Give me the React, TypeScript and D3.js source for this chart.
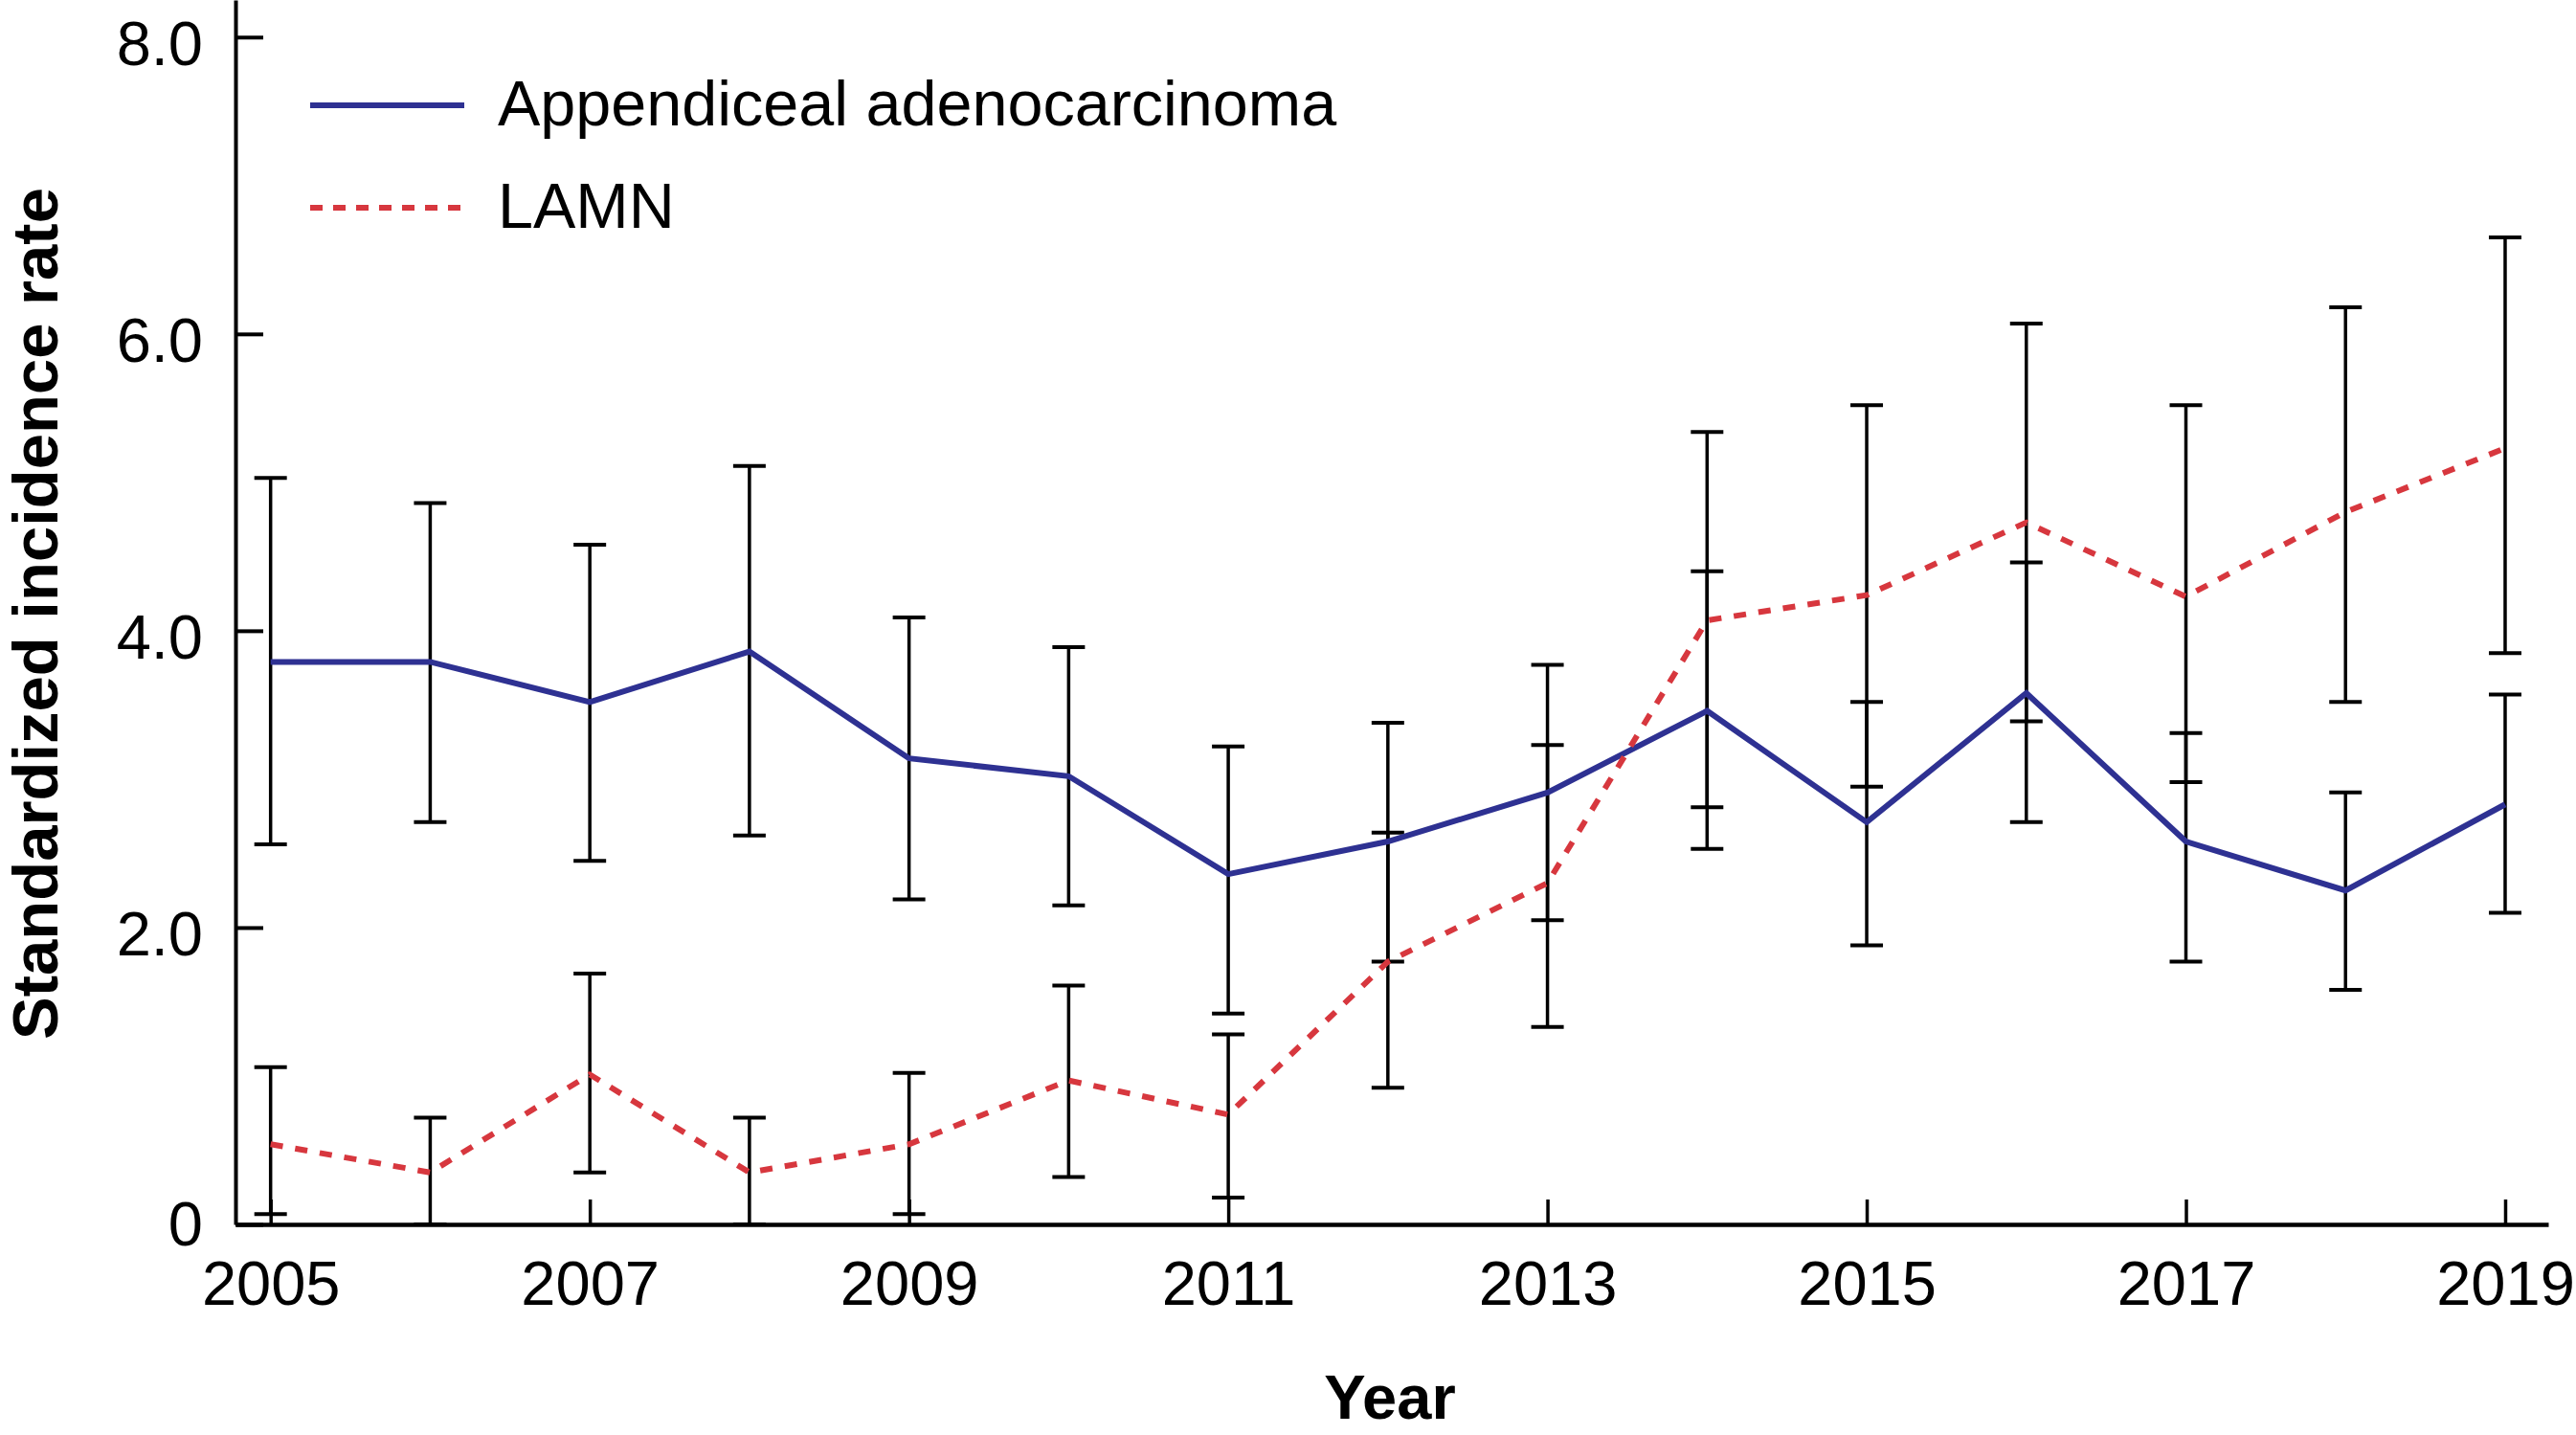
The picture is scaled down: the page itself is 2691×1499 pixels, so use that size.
import * as d3 from 'd3';
import React, { useEffect, useRef } from 'react';

const years = [2005, 2006, 2007, 2008, 2009, 2010, 2011, 2012, 2013, 2014, 2015, 2016, 2017, 2018, 2019];

// Appendiceal adenocarcinoma
const adenoRate = [3.79, 3.79, 3.52, 3.86, 3.14, 3.02, 2.36, 2.58, 2.91, 3.46, 2.71, 3.58, 2.58, 2.25, 2.83];
const adenoLower = [2.56, 2.71, 2.45, 2.62, 2.19, 2.15, 1.42, 1.77, 2.05, 2.53, 1.88, 2.71, 1.77, 1.58, 2.10];
const adenoUpper = [5.03, 4.86, 4.58, 5.11, 4.09, 3.89, 3.22, 3.38, 3.77, 4.40, 3.52, 4.46, 3.31, 2.91, 3.57];

// LAMN
const lamnRate = [0.54, 0.35, 1.01, 0.35, 0.54, 0.97, 0.74, 1.77, 2.30, 4.07, 4.24, 4.73, 4.23, 4.80, 5.23];
const lamnLower = [0.07, 0, 0.35, 0, 0.07, 0.32, 0.18, 0.92, 1.33, 2.81, 2.95, 3.39, 2.98, 3.52, 3.85];
const lamnUpper = [1.06, 0.72, 1.69, 0.72, 1.02, 1.61, 1.28, 2.64, 3.23, 5.34, 5.52, 6.07, 5.52, 6.18, 6.65];

const xTickYears = [2005, 2007, 2009, 2011, 2013, 2015, 2017, 2019];
const yTickValues = [0, 2, 4, 6, 8];

const seriesNames = ['Appendiceal adenocarcinoma', 'LAMN'];
const xTitle = 'Year';
const yTitle = 'Standardized incidence rate';

const W = 2691, H = 1499;
const FONT = '"Liberation Sans", Arial, Helvetica, sans-serif';
const BLUE = '#2e3192';
const RED = '#d7373e';

const App: React.FC = () => {
    const svgRef = useRef<SVGSVGElement | null>(null);

    useEffect(() => {
        const svg = d3.select(svgRef.current).html('');

        const x = d3.scaleLinear().domain([2004.78, 2019.27]).range([246, 2662]);
        const y = d3.scaleLinear().domain([0, 8.25]).range([1279, 0]);

        // error bars (drawn first, lines go on top)
        const bars = svg.append('g').attr('stroke', '#000');
        const addBars = (lower: number[], upper: number[]) => {
            years.forEach((yr, i) => {
                const cx = x(yr);
                bars.append('line')
                    .attr('x1', cx).attr('x2', cx)
                    .attr('y1', y(lower[i])).attr('y2', y(upper[i]))
                    .attr('stroke-width', 3.5);
                [lower[i], upper[i]].forEach(v => {
                    bars.append('line')
                        .attr('x1', cx - 17).attr('x2', cx + 17)
                        .attr('y1', y(v)).attr('y2', y(v))
                        .attr('stroke-width', 4);
                });
            });
        };
        addBars(adenoLower, adenoUpper);
        addBars(lamnLower, lamnUpper);

        // x axis
        const xAxis = svg.append('g')
            .attr('transform', `translate(0,${y(0)})`)
            .call(d3.axisBottom(x).tickValues(xTickYears).tickSize(-26).tickSizeOuter(0).tickFormat(d3.format('d')));
        xAxis.select('.domain').attr('stroke-width', 4.5);
        xAxis.selectAll('.tick line').attr('stroke-width', 3.5);
        xAxis.selectAll('.tick text')
            .attr('y', 84).attr('dy', null)
            .style('font-family', FONT).style('font-size', '65px').attr('fill', '#000');

        // y axis
        const yAxis = svg.append('g')
            .attr('transform', `translate(${x.range()[0]},0)`)
            .call(d3.axisLeft(y).tickValues(yTickValues).tickSize(-29).tickSizeOuter(0)
                .tickFormat(d => (+d === 0 ? '0' : d3.format('.1f')(+d))));
        yAxis.select('.domain').attr('stroke-width', 4);
        yAxis.selectAll('.tick line').attr('stroke-width', 4);
        yAxis.selectAll<SVGTextElement, number>('.tick text')
            .attr('x', -34).attr('dy', null)
            .attr('y', d => (d === 0 ? 21 : 29))
            .style('font-family', FONT).style('font-size', '65px').attr('fill', '#000');

        // series lines
        const line = d3.line<number>().x((_, i) => x(years[i])).y(d => y(d));
        svg.append('path').datum(adenoRate)
            .attr('d', line).attr('fill', 'none')
            .attr('stroke', BLUE).attr('stroke-width', 6).attr('stroke-linejoin', 'miter');
        svg.append('path').datum(lamnRate)
            .attr('d', line).attr('fill', 'none')
            .attr('stroke', RED).attr('stroke-width', 6).attr('stroke-dasharray', '13 13');

        // legend
        const legend = svg.append('g');
        [BLUE, RED].forEach((c, i) => {
            const ly = 110 + i * 107;
            legend.append('line')
                .attr('x1', 324).attr('x2', 485).attr('y1', ly).attr('y2', ly)
                .attr('stroke', c).attr('stroke-width', 6)
                .attr('stroke-dasharray', i === 1 ? '13 11' : null);
            legend.append('text')
                .attr('x', 520).attr('y', ly + 21)
                .style('font-family', FONT).style('font-size', '66.5px')
                .text(seriesNames[i]);
        });

        // axis titles
        svg.append('text')
            .attr('x', 1452).attr('y', 1482)
            .attr('text-anchor', 'middle')
            .style('font-family', FONT).style('font-size', '65px').style('font-weight', 'bold')
            .text(xTitle);
        svg.append('text')
            .attr('transform', `translate(60,641) rotate(-90)`)
            .attr('text-anchor', 'middle')
            .style('font-family', FONT).style('font-size', '67px').style('font-weight', 'bold')
            .text(yTitle);
    }, []);

    return (
        <svg ref={svgRef} width={W} height={H}
            style={{ position: 'absolute', left: 0, top: 0, background: '#fff' }} />
    );
};

export default App;
